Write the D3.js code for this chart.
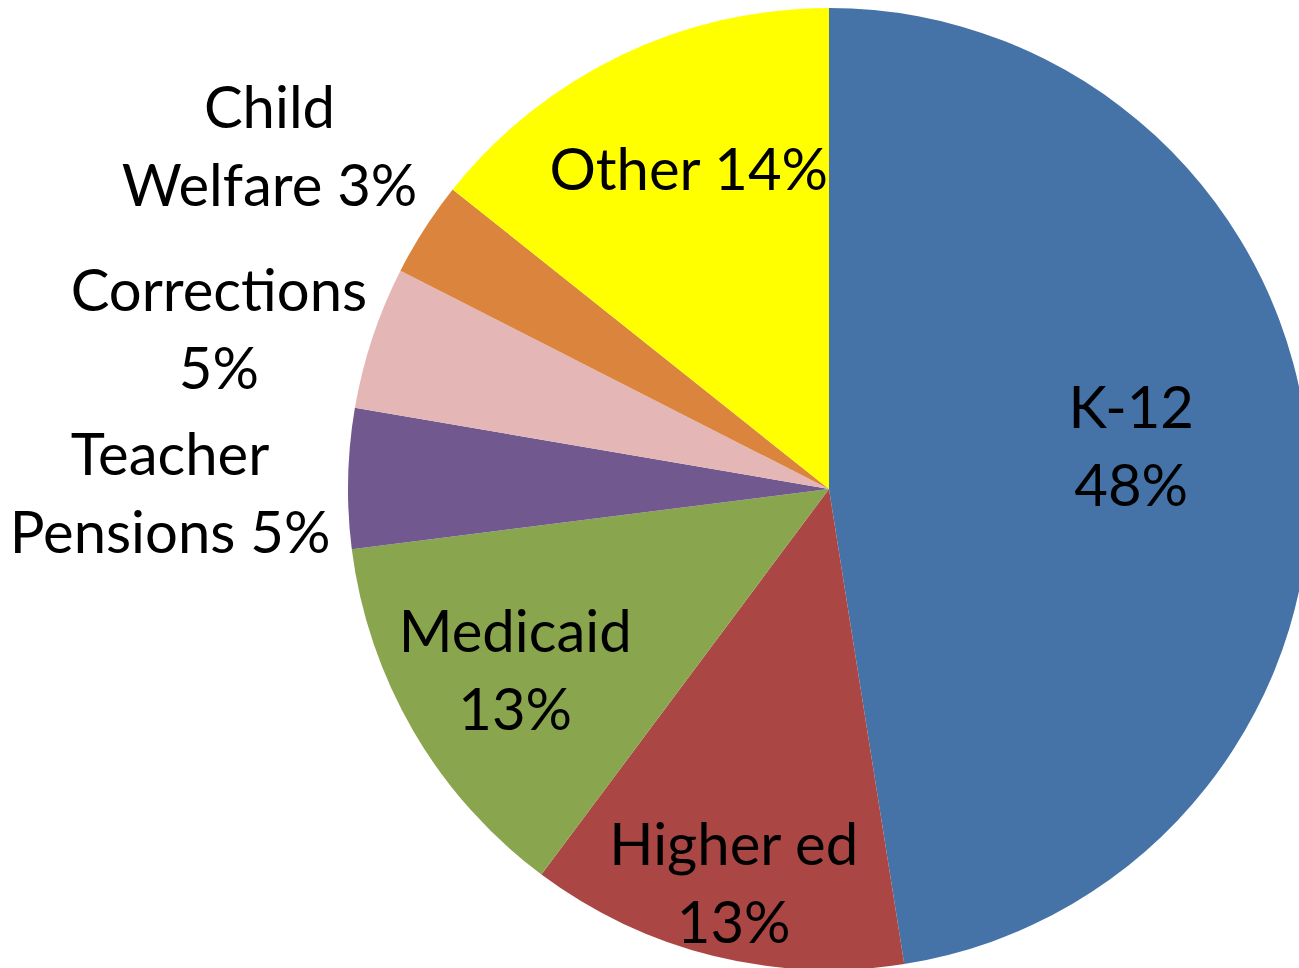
<!DOCTYPE html>
<html>
<head>
<meta charset="utf-8">
<script src="https://cdn.jsdelivr.net/npm/d3@7"></script>
<style>
  body { margin: 0; background: #fff; }
  svg { display: block; }
</style>
</head>
<body>
<div id="chart"></div>
<script>
// budget shares, clockwise from 12 o'clock
const categories = ["K-12", "Higher ed", "Medicaid", "Teacher Pensions", "Corrections", "Child Welfare", "Other"];
const values = [47.5, 12.7, 12.8, 4.7, 4.8, 3.2, 14.3];
const pctLabels = ["48%", "13%", "13%", "5%", "5%", "3%", "14%"];
const labelLines = [
    ["K-12", "48%"],
    ["Higher ed", "13%"],
    ["Medicaid", "13%"],
    ["Teacher", "Pensions 5%"],
    ["Corrections", "5%"],
    ["Child", "Welfare 3%"],
    ["Other 14%"]
];

const width = 1299,
      height = 968,
      cx = 829, cy = 489,
      radius = 481;

const colors = ["#4572A7", "#AA4643", "#89A54E", "#71588F", "#E4B6B6", "#DB843D", "#FFFF00"];

// where each label sits: radius factor, angle shift (degrees), vertical nudge (px)
const labelPlace = [
    { f: 0.63, a: 0.3, dy: -21 },
    { f: 0.89, a: -1, dy: -23 },
    { f: 0.78, a: -3, dy: -25 },
    { f: 1.37, a: -1.6, dy: 0 },
    { f: 1.30, a: -5.7, dy: -23 },
    { f: 1.34, a: -3, dy: -23 },
    { f: 0.71, a: 1.5, dy: -8 }
];

let svg = d3.select("#chart")
    .append("svg")
    .attr("width", width)
    .attr("height", height);

let pie = d3.pie()
    .value(d => d)
    .sort(null);

let arc = d3.arc()
    .innerRadius(0)
    .outerRadius(radius);

let arcs = pie(values);

let g = svg.append("g")
    .attr("transform", `translate(${cx},${cy})`);

g.selectAll("path")
    .data(arcs)
    .join("path")
    .attr("d", arc)
    .attr("fill", (d, i) => colors[i]);

let lineH = 78;

let label = g.selectAll(".label")
    .data(arcs)
    .join("text")
    .attr("class", "label")
    .attr("text-anchor", "middle")
    .style("font-family", "Lato, 'Open Sans', sans-serif")
    .style("font-size", "58px")
    .style("fill", "#000")
    .each(function(d, i) {
        let p = labelPlace[i];
        let mid = (d.startAngle + d.endAngle) / 2 + p.a * Math.PI / 180;
        let [x, y] = d3.pointRadial(mid, radius * p.f);
        let lines = labelLines[i];
        d3.select(this).selectAll("tspan")
            .data(lines)
            .join("tspan")
            .attr("x", x)
            .attr("y", (t, j) => y + p.dy + (j - (lines.length - 1) / 2) * lineH)
            .attr("dy", "0.36em")
            .text(t => t);
    });
</script>
</body>
</html>
